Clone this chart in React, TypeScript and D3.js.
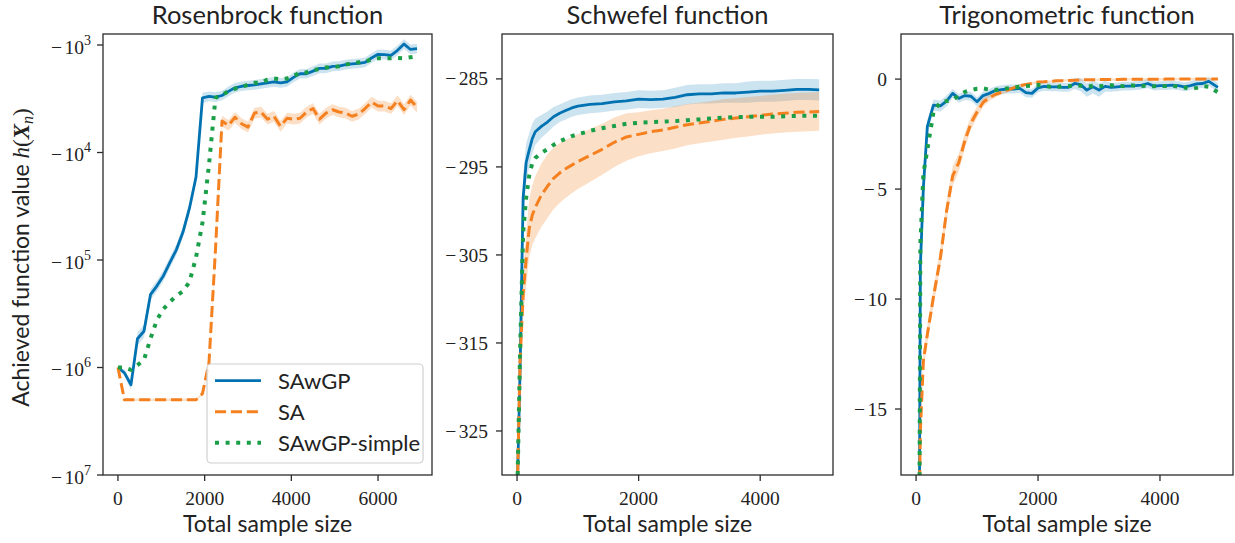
import React from 'react';
import * as d3 from 'd3';

// ---------- colours ----------
const BLUE = '#0072b2';
const ORANGE = '#f5801f';
const GREEN = '#1b9e48';

// ---------- Rosenbrock ----------
const rosenX = [0,150,300,450,600,750,900,1050,1200,1350,1500,1650,1800,1950,2100,2250,2400,2550,2700,2850,3000,3150,3300,3450,3600,3750,3900,4050,4200,4350,4500,4650,4800,4950,5100,5250,5400,5550,5700,5850,6000,6150,6300,6450,6600,6750,6900];
const rosenSAwGP = [-1.0e6,-1.12e6,-1.45e6,-5.4e5,-4.6e5,-2.1e5,-1.74e5,-1.4e5,-1.05e5,-8.0e4,-5.5e4,-3.3e4,-1.7e4,-3.1e3,-3.0e3,-3.05e3,-2.95e3,-2.7e3,-2.5e3,-2.42e3,-2.38e3,-2.35e3,-2.3e3,-2.25e3,-2.2e3,-2.25e3,-2.2e3,-2.0e3,-1.85e3,-1.85e3,-1.75e3,-1.65e3,-1.65e3,-1.58e3,-1.57e3,-1.52e3,-1.5e3,-1.48e3,-1.45e3,-1.32e3,-1.22e3,-1.23e3,-1.25e3,-1.12e3,-0.98e3,-1.1e3,-1.08e3];
const rosenSA = [-1.0e6,-2.0e6,-2.0e6,-2.0e6,-2.0e6,-2.0e6,-2.0e6,-2.0e6,-2.0e6,-2.0e6,-2.0e6,-2.0e6,-2.0e6,-1.75e6,-9.0e5,-8.0e4,-5.1e3,-5.6e3,-4.7e3,-5.4e3,-5.8e3,-4.3e3,-4.2e3,-4.9e3,-4.6e3,-5.7e3,-4.8e3,-4.9e3,-4.8e3,-4.2e3,-3.9e3,-4.9e3,-4.3e3,-4.0e3,-4.2e3,-4.3e3,-4.6e3,-4.4e3,-3.9e3,-3.4e3,-3.7e3,-3.7e3,-3.9e3,-3.3e3,-4.0e3,-3.25e3,-3.8e3];
const rosenSimple = [-1.0e6,-1.0e6,-1.05e6,-9.5e5,-8.5e5,-5.4e5,-3.6e5,-2.85e5,-2.45e5,-2.15e5,-1.95e5,-1.6e5,-9.5e4,-4.5e4,-1.3e4,-3.1e3,-2.9e3,-2.7e3,-2.55e3,-2.45e3,-2.35e3,-2.25e3,-2.25e3,-2.1e3,-2.05e3,-2.08e3,-2.05e3,-1.95e3,-1.8e3,-1.8e3,-1.7e3,-1.68e3,-1.62e3,-1.6e3,-1.58e3,-1.52e3,-1.48e3,-1.45e3,-1.43e3,-1.36e3,-1.33e3,-1.33e3,-1.33e3,-1.32e3,-1.33e3,-1.3e3,-1.27e3];
// band half-widths in decades
const rosenSAwGPBand = [0.01,0.03,0.04,0.06,0.06,0.05,0.05,0.05,0.05,0.05,0.05,0.05,0.05,0.05,0.045,0.045,0.045,0.045,0.045,0.045,0.045,0.045,0.045,0.045,0.045,0.045,0.045,0.045,0.045,0.045,0.045,0.045,0.045,0.045,0.045,0.045,0.045,0.045,0.045,0.045,0.045,0.045,0.045,0.045,0.045,0.045,0.045];
const rosenSABand = [0,0.01,0.01,0.01,0.01,0.01,0.01,0.01,0.01,0.01,0.01,0.01,0.01,0.01,0.03,0.04,0.05,0.05,0.05,0.05,0.05,0.05,0.05,0.05,0.05,0.05,0.05,0.05,0.05,0.05,0.05,0.05,0.05,0.05,0.05,0.05,0.05,0.05,0.05,0.05,0.05,0.05,0.05,0.05,0.05,0.05,0.05];
const rosenYTicks = [-1e3,-1e4,-1e5,-1e6,-1e7];
const rosenXTicks = [0,2000,4000,6000];

// ---------- Schwefel ----------
const schwX = [10,50,100,150,200,250,300,400,500,600,700,800,900,1000,1200,1400,1600,1800,2000,2200,2400,2600,2800,3000,3200,3400,3600,3800,4000,4200,4400,4600,4800,4970];
const schwSAwGP = [-330,-318,-298.5,-294.5,-293.1,-291.8,-291,-290.4,-289.9,-289.3,-288.9,-288.6,-288.3,-288.1,-287.9,-287.8,-287.6,-287.5,-287.3,-287.35,-287.3,-287.1,-286.8,-286.7,-286.7,-286.6,-286.6,-286.5,-286.4,-286.4,-286.3,-286.2,-286.2,-286.25];
const schwSAwGPBand = [0.3,1.5,2.5,2.2,1.9,1.7,1.5,1.3,1.2,1.1,1.0,1.0,1.0,1.0,1.0,1.0,1.0,1.0,1.0,1.0,1.0,1.1,1.1,1.1,1.1,1.1,1.1,1.2,1.2,1.2,1.2,1.2,1.2,1.2];
const schwSA = [-330,-317,-309.5,-305.5,-302,-300.5,-299.6,-298.2,-297.2,-296.3,-295.7,-295.2,-294.8,-294.4,-293.7,-293.0,-292.2,-291.6,-291.3,-291.0,-290.8,-290.5,-290.2,-290.0,-289.8,-289.6,-289.45,-289.3,-289.15,-289.0,-288.9,-288.8,-288.75,-288.7];
const schwSABand = [0.3,1.5,2.5,3,3.3,3.4,3.5,3.6,3.6,3.5,3.4,3.3,3.2,3.1,3.0,2.9,2.8,2.7,2.5,2.45,2.4,2.4,2.35,2.3,2.3,2.3,2.25,2.25,2.2,2.2,2.2,2.2,2.2,2.2];
const schwSimple = [-330,-316,-302.5,-298.5,-296,-294.6,-294.0,-293.4,-293.0,-292.5,-292.1,-291.8,-291.5,-291.3,-290.9,-290.6,-290.35,-290.1,-290.0,-289.9,-289.85,-289.8,-289.7,-289.6,-289.5,-289.4,-289.35,-289.3,-289.3,-289.3,-289.25,-289.2,-289.2,-289.2];
const schwYTicks = [-325,-315,-305,-295,-285];
const schwXTicks = [0,2000,4000];

// ---------- Trigonometric ----------
const trigX = [55,70,120,185,285,400,500,600,700,800,900,1000,1100,1200,1300,1400,1500,1600,1700,1800,1900,2000,2100,2200,2300,2400,2500,2600,2700,2800,2900,3000,3100,3200,3300,3400,3500,3600,3700,3800,3900,4000,4100,4200,4300,4400,4500,4600,4700,4800,4950];
const trigSAwGP = [-19,-8.5,-4.9,-2.15,-1.18,-1.22,-1.0,-0.65,-0.88,-0.75,-0.78,-1.03,-0.75,-0.65,-0.52,-0.48,-0.45,-0.45,-0.42,-0.62,-0.65,-0.4,-0.33,-0.35,-0.35,-0.38,-0.38,-0.2,-0.25,-0.5,-0.35,-0.5,-0.33,-0.38,-0.35,-0.32,-0.32,-0.3,-0.27,-0.2,-0.32,-0.3,-0.3,-0.27,-0.3,-0.35,-0.3,-0.22,-0.2,-0.1,-0.38];
const trigSAwGPBand = [0.5,0.4,0.35,0.3,0.25,0.25,0.25,0.2,0.2,0.2,0.2,0.2,0.2,0.2,0.2,0.2,0.2,0.2,0.2,0.2,0.2,0.2,0.2,0.2,0.2,0.2,0.2,0.25,0.3,0.3,0.3,0.3,0.25,0.2,0.2,0.2,0.2,0.2,0.2,0.2,0.2,0.2,0.2,0.2,0.2,0.2,0.2,0.2,0.2,0.2,0.2];
const trigSA = [-19,-16,-12.8,-11.6,-9.9,-8.1,-6.0,-4.4,-3.8,-2.8,-2.0,-1.5,-1.05,-0.85,-0.7,-0.6,-0.5,-0.4,-0.3,-0.25,-0.2,-0.13,-0.12,-0.1,-0.08,-0.07,-0.06,-0.05,-0.04,-0.03,-0.03,-0.02,-0.02,-0.02,-0.02,-0.01,-0.01,-0.01,-0.01,-0.01,-0.01,-0.01,0,0,0,0,0,0,0,0,0];
const trigSABand = [0.3,0.4,0.4,0.4,0.4,0.45,0.45,0.45,0.4,0.35,0.3,0.25,0.2,0.15,0.12,0.1,0.1,0.08,0.08,0.07,0.06,0.05,0.05,0.05,0.05,0.05,0.05,0.05,0.05,0.05,0.05,0.05,0.05,0.05,0.05,0.05,0.05,0.05,0.05,0.05,0.05,0.05,0.05,0.05,0.05,0.05,0.05,0.05,0.05,0.05,0.05];
const trigSimple = [-19.5,-7.5,-4.3,-3.2,-1.5,-1.03,-1.0,-0.95,-0.75,-0.58,-0.5,-0.44,-0.42,-0.48,-0.5,-0.45,-0.42,-0.38,-0.35,-0.32,-0.3,-0.27,-0.3,-0.35,-0.38,-0.3,-0.32,-0.28,-0.3,-0.35,-0.3,-0.33,-0.3,-0.28,-0.3,-0.32,-0.28,-0.3,-0.32,-0.3,-0.33,-0.3,-0.32,-0.3,-0.35,-0.38,-0.45,-0.4,-0.32,-0.35,-0.6];
const trigYTicks = [-15,-10,-5,0];
const trigXTicks = [0,2000,4000];

const legendLabels = ['SAwGP', 'SA', 'SAwGP-simple'];

const SANS = 'Lato, "Open Sans", sans-serif';
const SERIF = '"Liberation Serif", "DejaVu Serif", serif';
const FRAME = '#2b2b2b';

const styles = [
  { color: BLUE, width: 2.8, dash: undefined as string | undefined },
  { color: ORANGE, width: 3, dash: '11.1,4.8' },
  { color: GREEN, width: 4, dash: '4,6.6' },
];

type Series = { x: number[]; y: number[]; band?: number[] };

function Panel(props: {
  id: string; left: number; right: number; top: number; bottom: number;
  xDomain: [number, number]; yDomain: [number, number]; log?: boolean;
  xTicks: number[]; yTicks: number[]; title: string; series: Series[];
}) {
  const { id, left, right, top, bottom, xDomain, yDomain, log, xTicks, yTicks, title, series } = props;
  const x = d3.scaleLinear().domain(xDomain).range([left, right]);
  const y = (log ? d3.scaleLog() : d3.scaleLinear()).domain(yDomain).range([bottom, top]);
  const pts = (s: Series) => s.x.map((xv, i) => ({ x: xv, y: s.y[i], b: s.band ? s.band[i] : 0 }));
  const line = d3.line<{ x: number; y: number }>().x(d => x(d.x)).y(d => y(d.y));
  const area = d3.area<{ x: number; y: number; b: number }>()
    .x(d => x(d.x))
    .y0(d => y(log ? d.y * Math.pow(10, d.b) : d.y - d.b))
    .y1(d => y(log ? d.y / Math.pow(10, d.b) : d.y + d.b));
  const tickLen = 6;
  return (
    <g>
      <defs>
        <clipPath id={id}>
          <rect x={left} y={top} width={right - left} height={bottom - top} />
        </clipPath>
      </defs>
      <g clipPath={`url(#${id})`}>
        {series.map((s, i) => s.band ? (
          <path key={'b' + i} d={area(pts(s)) || ''} fill={styles[i].color} fillOpacity={i === 0 ? 0.2 : 0.25} stroke="none" />
        ) : null)}
        {series.map((s, i) => (
          <path key={'l' + i} d={line(pts(s)) || ''} fill="none" stroke={styles[i].color}
            strokeWidth={styles[i].width} strokeDasharray={styles[i].dash} strokeLinejoin="round" strokeLinecap="butt" />
        ))}
      </g>
      <rect x={left} y={top} width={right - left} height={bottom - top} fill="none" stroke={FRAME} strokeWidth={1.3} />
      {xTicks.map(t => (
        <g key={'xt' + t}>
          <line x1={x(t)} x2={x(t)} y1={bottom} y2={bottom + tickLen} stroke={FRAME} strokeWidth={1.3} />
          <text x={x(t)} y={bottom + 30} textAnchor="middle" fontFamily={SERIF} fontSize={19.5} fill="#222">{t}</text>
        </g>
      ))}
      {yTicks.map(t => (
        <g key={'yt' + t}>
          <line x1={left - tickLen} x2={left} y1={y(t)} y2={y(t)} stroke={FRAME} strokeWidth={1.3} />
          {log ? (
            <text x={left - 12} y={y(t) + 8.5} textAnchor="end" fontFamily={SERIF} fontSize={19.5} fill="#222">
              {'\u2212'}<tspan dx={2.5}>10</tspan><tspan dy={-9} fontSize={14}>{Math.round(Math.log10(Math.abs(t)))}</tspan>
            </text>
          ) : (
            <text x={left - 14} y={y(t) + 6.6} textAnchor="end" fontFamily={SERIF} fontSize={19.5} fill="#222">
              {t < 0 ? <>{'\u2212'}<tspan dx={2.5}>{Math.abs(t)}</tspan></> : String(t)}
            </text>
          )}
        </g>
      ))}
      <text x={(left + right) / 2} y={24} textAnchor="middle" fontFamily={SANS} fontSize={25.5} fill="#222">{title}</text>
      <text x={(left + right) / 2} y={531.5} textAnchor="middle" fontFamily={SANS} fontSize={23} fill="#222">Total sample size</text>
    </g>
  );
}

export default function App() {
  const legendTop = 364, legendLeft = 207;
  return (
    <svg width={1235} height={543} style={{ position: 'absolute', left: 0, top: 0, background: '#fff' }}>
      <rect width={1235} height={543} fill="#fff" />
      <Panel id="c1" left={103} right={432} top={34} bottom={475} log
        xDomain={[-345, 7245]} yDomain={[-1e7, -790]} xTicks={rosenXTicks} yTicks={rosenYTicks}
        title="Rosenbrock function"
        series={[
          { x: rosenX, y: rosenSAwGP, band: rosenSAwGPBand },
          { x: rosenX, y: rosenSA, band: rosenSABand },
          { x: rosenX, y: rosenSimple },
        ]} />
      <Panel id="c2" left={502} right={833} top={34} bottom={475}
        xDomain={[-247.5, 5197.5]} yDomain={[-330, -279.9]} xTicks={schwXTicks} yTicks={schwYTicks}
        title="Schwefel function"
        series={[
          { x: schwX, y: schwSAwGP, band: schwSAwGPBand },
          { x: schwX, y: schwSA, band: schwSABand },
          { x: schwX, y: schwSimple },
        ]} />
      <Panel id="c3" left={901} right={1233} top={34} bottom={475}
        xDomain={[-247.5, 5197.5]} yDomain={[-18, 2.05]} xTicks={trigXTicks} yTicks={trigYTicks}
        title="Trigonometric function"
        series={[
          { x: trigX, y: trigSAwGP, band: trigSAwGPBand },
          { x: trigX, y: trigSA, band: trigSABand },
          { x: trigX, y: trigSimple },
        ]} />
      {/* y label */}
      <text transform="translate(29,257.5) rotate(-90)" textAnchor="middle" fontFamily={SANS} fontSize={23} fill="#222">
        Achieved function value <tspan fontFamily={SERIF} fontStyle="italic">h</tspan>
        <tspan fontFamily={SERIF}>(</tspan>
        <tspan fontFamily={SERIF} fontStyle="italic" fontWeight="bold">X</tspan>
        <tspan fontFamily={SERIF} fontStyle="italic" fontSize={16} dy={4}>n</tspan>
        <tspan fontFamily={SERIF} dy={-4}>)</tspan>
      </text>
      {/* legend */}
      <g>
        <rect x={legendLeft} y={legendTop} width={216} height={99} rx={4} fill="#fff" fillOpacity={0.8} stroke="#cfcfcf" strokeWidth={1.2} />
        {legendLabels.map((lab, i) => {
          const cy = legendTop + 16.7 + i * 31;
          return (
            <g key={lab}>
              <line x1={215} x2={261} y1={cy} y2={cy} stroke={styles[i].color} strokeWidth={styles[i].width}
                strokeDasharray={styles[i].dash} strokeLinecap="butt" />
              <text x={278} y={cy + 8} fontFamily={SANS} fontSize={22} fill="#222">{lab}</text>
            </g>
          );
        })}
      </g>
    </svg>
  );
}
